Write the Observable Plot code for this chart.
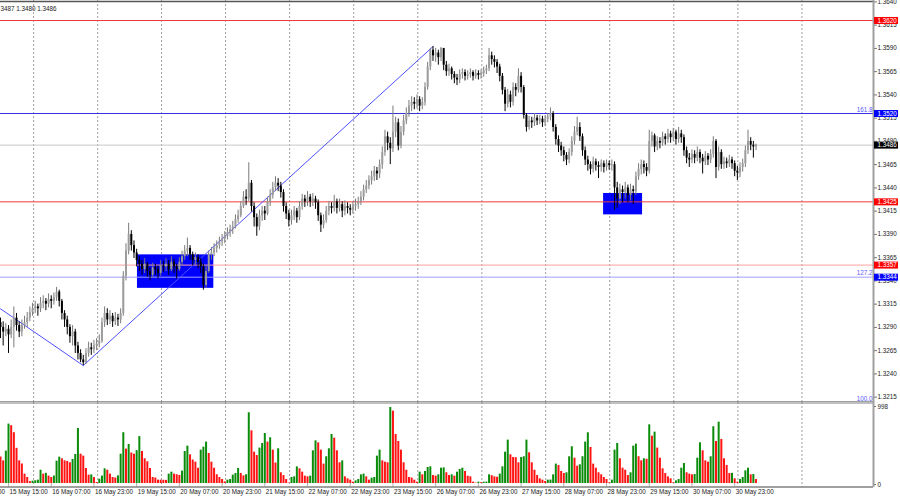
<!DOCTYPE html>
<html><head><meta charset="utf-8">
<script src="https://cdn.jsdelivr.net/npm/d3@7"></script>
<script src="https://cdn.jsdelivr.net/npm/@observablehq/plot@0.6"></script>
<style>
html,body{margin:0;padding:0;background:#fff;}
#chart{position:relative;width:900px;height:500px;overflow:hidden;background:#fff;}
#chart svg{display:block;overflow:hidden;}
</style></head><body><div id="chart"></div>
<script>
// ---- data (hourly bars, index 0 = 15 May 12:00) ----
const firstOpen = 1.3295;
const close = [
1.3290,1.3285,1.3288,1.3282,1.3290,1.3300,1.3292,1.3285,1.3292,1.3295,
1.3300,1.3306,1.3310,1.3312,1.3310,1.3316,1.3318,1.3315,1.3320,1.3318,
1.3322,1.3328,1.3318,1.3305,1.3298,1.3290,1.3280,1.3285,1.3270,1.3262,
1.3255,1.3252,1.3262,1.3268,1.3266,1.3270,1.3272,1.3275,1.3295,1.3305,
1.3298,1.3302,1.3296,1.3300,1.3298,1.3305,1.3345,1.3372,1.3390,1.3378,
1.3370,1.3362,1.3358,1.3352,1.3358,1.3350,1.3346,1.3354,1.3352,1.3348,
1.3356,1.3355,1.3358,1.3352,1.3360,1.3355,1.3352,1.3360,1.3366,1.3372,
1.3375,1.3368,1.3362,1.3365,1.3360,1.3355,1.3335,1.3350,1.3368,1.3370,
1.3375,1.3378,1.3382,1.3385,1.3388,1.3392,1.3395,1.3398,1.3406,1.3410,
1.3420,1.3430,1.3428,1.3445,1.3420,1.3408,1.3398,1.3410,1.3415,1.3412,
1.3425,1.3432,1.3440,1.3445,1.3442,1.3435,1.3420,1.3412,1.3405,1.3410,
1.3415,1.3408,1.3420,1.3428,1.3425,1.3430,1.3425,1.3428,1.3424,1.3410,
1.3400,1.3405,1.3415,1.3420,1.3418,1.3425,1.3418,1.3422,1.3415,1.3420,
1.3418,1.3416,1.3420,1.3422,1.3425,1.3430,1.3438,1.3442,1.3448,1.3452,
1.3458,1.3455,1.3465,1.3478,1.3495,1.3488,1.3482,1.3500,1.3510,1.3485,
1.3500,1.3512,1.3520,1.3528,1.3532,1.3530,1.3535,1.3528,1.3532,1.3548,
1.3570,1.3588,1.3582,1.3585,1.3580,1.3590,1.3572,1.3565,1.3568,1.3562,
1.3558,1.3556,1.3562,1.3564,1.3560,1.3562,1.3564,1.3560,1.3563,1.3561,
1.3563,1.3566,1.3568,1.3582,1.3578,1.3575,1.3570,1.3560,1.3545,1.3530,
1.3540,1.3532,1.3548,1.3545,1.3560,1.3548,1.3518,1.3505,1.3512,1.3510,
1.3515,1.3512,1.3514,1.3510,1.3514,1.3516,1.3520,1.3505,1.3492,1.3485,
1.3480,1.3475,1.3470,1.3478,1.3490,1.3500,1.3505,1.3495,1.3480,1.3470,
1.3465,1.3460,1.3468,1.3464,1.3462,1.3466,1.3462,1.3466,1.3464,1.3465,
1.3440,1.3428,1.3438,1.3435,1.3440,1.3432,1.3438,1.3436,1.3452,1.3460,
1.3465,1.3462,1.3458,1.3490,1.3496,1.3484,1.3490,1.3488,1.3495,1.3492,
1.3498,1.3494,1.3500,1.3492,1.3498,1.3494,1.3480,1.3472,1.3470,1.3476,
1.3472,1.3478,1.3472,1.3468,1.3474,1.3470,1.3476,1.3490,1.3462,1.3478,
1.3465,1.3468,1.3466,1.3470,1.3466,1.3458,1.3456,1.3462,1.3466,1.3480,
1.3490,1.3486,1.3484,1.3486];
const high = [
1.3300,1.3296,1.3294,1.3292,1.3298,1.3312,1.3305,1.3296,1.3298,1.3302,
1.3306,1.3312,1.3316,1.3318,1.3315,1.3322,1.3324,1.3321,1.3326,1.3324,
1.3327,1.3333,1.3330,1.3320,1.3308,1.3302,1.3293,1.3292,1.3288,1.3274,
1.3266,1.3260,1.3267,1.3274,1.3273,1.3276,1.3278,1.3282,1.3300,1.3312,
1.3310,1.3308,1.3305,1.3306,1.3304,1.3310,1.3350,1.3380,1.3402,1.3394,
1.3383,1.3374,1.3366,1.3362,1.3364,1.3360,1.3354,1.3359,1.3358,1.3356,
1.3362,1.3361,1.3364,1.3362,1.3366,1.3363,1.3358,1.3365,1.3372,1.3378,
1.3386,1.3378,1.3371,1.3370,1.3368,1.3364,1.3358,1.3356,1.3372,1.3376,
1.3380,1.3383,1.3387,1.3390,1.3393,1.3397,1.3400,1.3404,1.3411,1.3416,
1.3425,1.3436,1.3438,1.3467,1.3448,1.3424,1.3412,1.3416,1.3420,1.3420,
1.3430,1.3438,1.3446,1.3452,1.3450,1.3446,1.3438,1.3424,1.3416,1.3416,
1.3420,1.3418,1.3425,1.3433,1.3432,1.3436,1.3433,1.3434,1.3431,1.3427,
1.3413,1.3411,1.3420,1.3425,1.3424,1.3432,1.3428,1.3428,1.3425,1.3426,
1.3424,1.3422,1.3425,1.3428,1.3430,1.3436,1.3443,1.3448,1.3453,1.3458,
1.3463,1.3462,1.3470,1.3484,1.3502,1.3500,1.3494,1.3528,1.3516,1.3514,
1.3506,1.3518,1.3526,1.3534,1.3538,1.3537,1.3540,1.3538,1.3537,1.3553,
1.3575,1.3590,1.3592,1.3590,1.3588,1.3591,1.3588,1.3576,1.3573,1.3570,
1.3565,1.3562,1.3567,1.3568,1.3567,1.3566,1.3568,1.3566,1.3567,1.3566,
1.3567,1.3570,1.3572,1.3590,1.3586,1.3582,1.3578,1.3573,1.3563,1.3548,
1.3546,1.3544,1.3553,1.3552,1.3568,1.3564,1.3550,1.3520,1.3517,1.3516,
1.3520,1.3518,1.3518,1.3517,1.3518,1.3520,1.3526,1.3522,1.3508,1.3496,
1.3489,1.3484,1.3478,1.3482,1.3495,1.3506,1.3516,1.3510,1.3498,1.3484,
1.3474,1.3468,1.3473,1.3471,1.3468,1.3470,1.3469,1.3470,1.3469,1.3470,
1.3468,1.3446,1.3444,1.3442,1.3446,1.3443,1.3444,1.3442,1.3457,1.3466,
1.3470,1.3469,1.3466,1.3502,1.3500,1.3498,1.3495,1.3494,1.3500,1.3498,
1.3503,1.3501,1.3504,1.3502,1.3505,1.3502,1.3497,1.3484,1.3477,1.3481,
1.3480,1.3484,1.3481,1.3476,1.3479,1.3477,1.3481,1.3495,1.3492,1.3484,
1.3481,1.3473,1.3472,1.3475,1.3473,1.3469,1.3463,1.3467,1.3471,1.3485,
1.3502,1.3494,1.3490,1.3487];
const low = [
1.3278,1.3270,1.3280,1.3262,1.3278,1.3268,1.3286,1.3279,1.3280,1.3288,
1.3290,1.3296,1.3302,1.3305,1.3302,1.3306,1.3310,1.3308,1.3311,1.3310,
1.3314,1.3318,1.3312,1.3298,1.3290,1.3282,1.3273,1.3270,1.3262,1.3255,
1.3252,1.3249,1.3250,1.3258,1.3260,1.3262,1.3265,1.3268,1.3273,1.3290,
1.3292,1.3293,1.3290,1.3292,1.3291,1.3294,1.3302,1.3340,1.3368,1.3372,
1.3364,1.3355,1.3350,1.3346,1.3348,1.3344,1.3340,1.3343,1.3346,1.3342,
1.3345,1.3349,1.3350,1.3346,1.3350,1.3348,1.3342,1.3350,1.3356,1.3362,
1.3366,1.3362,1.3356,1.3357,1.3353,1.3348,1.3330,1.3332,1.3348,1.3362,
1.3366,1.3370,1.3374,1.3377,1.3380,1.3384,1.3387,1.3390,1.3396,1.3402,
1.3408,1.3418,1.3421,1.3425,1.3414,1.3398,1.3388,1.3394,1.3404,1.3405,
1.3410,1.3420,1.3428,1.3436,1.3436,1.3429,1.3414,1.3406,1.3398,1.3400,
1.3405,1.3402,1.3405,1.3416,1.3419,1.3420,1.3419,1.3420,1.3417,1.3404,
1.3392,1.3396,1.3402,1.3410,1.3412,1.3414,1.3412,1.3414,1.3408,1.3410,
1.3412,1.3410,1.3412,1.3415,1.3417,1.3421,1.3426,1.3434,1.3438,1.3443,
1.3447,1.3448,1.3450,1.3460,1.3474,1.3480,1.3465,1.3478,1.3494,1.3480,
1.3482,1.3496,1.3508,1.3516,1.3522,1.3524,1.3525,1.3522,1.3524,1.3528,
1.3545,1.3566,1.3576,1.3575,1.3572,1.3576,1.3566,1.3560,1.3560,1.3556,
1.3552,1.3550,1.3552,1.3557,1.3555,1.3556,1.3558,1.3555,1.3557,1.3556,
1.3557,1.3559,1.3562,1.3565,1.3572,1.3569,1.3563,1.3554,1.3540,1.3522,
1.3526,1.3526,1.3528,1.3538,1.3542,1.3542,1.3514,1.3500,1.3502,1.3504,
1.3506,1.3507,1.3508,1.3505,1.3506,1.3510,1.3512,1.3500,1.3486,1.3478,
1.3474,1.3468,1.3464,1.3466,1.3474,1.3486,1.3496,1.3490,1.3474,1.3464,
1.3458,1.3454,1.3456,1.3458,1.3450,1.3457,1.3456,1.3458,1.3459,1.3458,
1.3416,1.3418,1.3422,1.3424,1.3428,1.3424,1.3426,1.3422,1.3432,1.3448,
1.3454,1.3455,1.3452,1.3455,1.3484,1.3478,1.3480,1.3482,1.3485,1.3486,
1.3488,1.3488,1.3490,1.3486,1.3488,1.3488,1.3474,1.3466,1.3462,1.3466,
1.3466,1.3468,1.3466,1.3455,1.3464,1.3464,1.3466,1.3472,1.3450,1.3458,
1.3460,1.3460,1.3461,1.3462,1.3460,1.3452,1.3448,1.3451,1.3457,1.3462,
1.3476,1.3480,1.3472,1.3480];
const volume = [
340,290,414,760,740,650,450,290,250,120,
77,25,30,35,43,170,120,130,95,77,
95,286,337,316,290,282,265,307,371,704,
375,350,192,107,110,77,13,55,95,188,
170,120,77,70,98,375,650,440,500,390,
375,420,600,410,316,278,192,77,70,43,
42,41,40,120,145,120,112,103,158,410,
478,367,300,273,196,427,465,530,384,273,
196,112,77,51,21,43,51,107,128,192,
128,98,112,905,674,401,358,453,512,640,
530,585,427,262,444,137,102,51,5,77,
85,213,188,145,94,85,94,418,546,520,
427,248,342,444,627,580,418,265,290,85,
60,43,17,34,51,111,120,85,43,68,
77,350,427,290,273,265,973,926,627,538,
427,265,170,77,70,43,17,145,111,154,
205,213,102,94,111,196,200,137,102,
111,94,145,180,196,154,94,85,17,5,
17,10,17,18,111,100,85,80,120,213,
401,555,367,333,330,265,333,342,555,393,
265,170,102,60,43,26,43,44,111,248,
230,154,128,137,342,470,324,222,239,342,
530,649,461,248,196,137,111,77,51,9,
43,427,512,316,196,170,102,137,478,504,
342,290,316,310,751,606,657,453,324,188,
128,85,60,9,34,51,196,256,137,120,
111,115,324,521,418,290,273,342,726,538,
785,564,316,230,128,130,60,17,51,77,
162,196,111,115,51];

const priceTicks = [1.3215,1.3240,1.3265,1.3290,1.3315,1.3340,1.3365,1.3390,1.3415,1.3440,1.3465,1.3490,1.3515,1.3540,1.3565,1.3590,1.3615,1.3640];
const timeBars = [-13,3,19,35,51,67,83,99,115,131,147,163,179,195,211,227,243,259,275];
const timeTexts = ["14 May 23:00","15 May 15:00","16 May 07:00","16 May 23:00","19 May 15:00","20 May 07:00","20 May 23:00","21 May 15:00","22 May 07:00","22 May 23:00","23 May 15:00","26 May 07:00","26 May 23:00","27 May 15:00","28 May 07:00","28 May 23:00","29 May 15:00","30 May 07:00","30 May 23:00"];
const gridBars = [12.4,36.4,60.3,84.3,108.3,132.3,156.3,180.3,204.2,228.2,252.2,276.2,300.2];

const levelPrices = [1.3620,1.3520,1.3486,1.3425,1.3357,1.3344];
const levelLineColors = ["#f03c3c","#3434e0","#c8c8c8","#f03c3c","#ffa0a0","#a0a0ff"];
const levelBoxColors = ["#ff0000","#0000ff","#000000","#ff0000","#ff0000","#0000ff"];

const fibPrices = [1.3520,1.3344,1.3209];
const fibTexts = ["161.8","127.2","100.0"];

const trendIdx1 = [0,31], trendPrice1 = [1.3310,1.3249];
const trendIdx2 = [31,162], trendPrice2 = [1.3249,1.3592];

const zoneStart = [51.3,225.9], zoneEnd = [79.9,240.5];
const zoneLow = [1.3332,1.3411], zoneHigh = [1.3368,1.3434];

const headerText = ["3487 1.3480 1.3486"];

// ---- build tables ----
const bars = close.map((c, i) => {
  const o = i === 0 ? firstOpen : close[i - 1];
  return {i, o, c, h: high[i], l: low[i], v: volume[i], up: c >= o, vUp: i > 0 && volume[i] > volume[i - 1]};
});
const levels = levelPrices.map((p, k) => ({p, line: levelLineColors[k], box: levelBoxColors[k]}));
const fibs = fibPrices.map((p, k) => ({p, t: fibTexts[k]}));
const trend1 = trendIdx1.map((i, k) => ({i, p: trendPrice1[k]}));
const trend2 = trendIdx2.map((i, k) => ({i, p: trendPrice2[k]}));
const zones = zoneStart.map((s, k) => ({x1: s, x2: zoneEnd[k], y1: zoneLow[k], y2: zoneHigh[k]}));
const timeLabels = timeBars.map((i, k) => ({i, t: timeTexts[k]}));

const X_DOMAIN = [0, 327];
const X_AXIS_END = 327, X_BOX_END = 336;
const Y_DOMAIN = [1.320925, 1.364151];
const font = "'Liberation Sans', Arial, sans-serif";
const hasAxis = typeof Plot.axisY === "function";

const mainMarks = [
  Plot.ruleX(gridBars, {x: d => d, stroke: "#a0a0a0", strokeDasharray: "2,2"}),
  Plot.rect(zones, {x1: "x1", x2: "x2", y1: "y1", y2: "y2", fill: "#0000ff"}),
  Plot.ruleY(levels, {y: "p", stroke: "line", strokeWidth: 1}),
  Plot.line(trend1, {x: "i", y: "p", stroke: "#5050ff", strokeWidth: 1}),
  Plot.line(trend2, {x: "i", y: "p", stroke: "#5050ff", strokeWidth: 1}),
  Plot.ruleX(bars, {x: "i", y1: "l", y2: "h", stroke: d => d.up ? "#7a7a7a" : "#000000", strokeWidth: 1}),
  Plot.ruleX(bars, {x: "i", y1: "o", y2: "c", stroke: d => d.up ? "#9c9c9c" : "#000000", strokeWidth: 2}),
  Plot.ruleY([Y_DOMAIN[1]], {stroke: "#555", strokeWidth: 1.5, dy: 1}),
  Plot.ruleY([Y_DOMAIN[0]], {stroke: "#808080", strokeWidth: 1.5, dy: -0.5}),
  Plot.ruleX([X_AXIS_END], {stroke: "#a0a0a0", strokeWidth: 2})
];
if (hasAxis) mainMarks.push(Plot.axisY({anchor: "right", ticks: priceTicks, tickFormat: d => d.toFixed(4), tickSize: 3, tickPadding: 1, label: null, fill: "#222", stroke: "#777"}));
mainMarks.push(
  Plot.ruleY(levels, {y: "p", x1: X_AXIS_END, x2: X_BOX_END, stroke: "box", strokeWidth: 7, dx: 1}),
  Plot.text(levels, {x: X_AXIS_END, y: "p", text: d => d.p.toFixed(4), fill: "#ffffff", textAnchor: "start", dx: 4}),
  Plot.text(fibs, {x: X_AXIS_END, y: "p", text: "t", fill: "#5a5aff", textAnchor: "end", dx: -1, dy: -4}),
  Plot.text(headerText, {frameAnchor: "top-left", text: d => d, textAnchor: "start", dy: 6, fill: "#222"})
);

const main = Plot.plot({
  width: 900, height: 402, marginLeft: 0, marginRight: 27, marginTop: 0, marginBottom: 0,
  x: {domain: X_DOMAIN, axis: null},
  y: hasAxis ? {domain: Y_DOMAIN, axis: null} : {domain: Y_DOMAIN, axis: "right", ticks: priceTicks, tickFormat: d => d.toFixed(4), tickSize: 3, tickPadding: 1, label: null},
  color: {type: "identity"},
  style: {fontFamily: font, fontSize: "6.3px", color: "#222", background: "white", overflow: "hidden"},
  marks: mainMarks
});

const volMarks = [
  Plot.ruleX(gridBars, {x: d => d, stroke: "#a0a0a0", strokeDasharray: "2,2", insetTop: -3, insetBottom: -4}),
  Plot.ruleX(bars, {x: "i", y1: 0, y2: "v", stroke: d => d.vUp ? "#0a8c0a" : "#ff1414", strokeWidth: 2}),
  Plot.ruleX(timeLabels, {x: "i", y1: 0, y2: 45, dy: 3.5, stroke: "#b0b0b0"}),
  Plot.ruleY([998], {stroke: "#808080", strokeWidth: 1, dy: -2.5}),
  Plot.ruleY([0], {stroke: "#808080", strokeWidth: 1.5, dy: 3.5}),
  Plot.ruleX([X_AXIS_END], {stroke: "#a0a0a0", strokeWidth: 2, insetTop: -3, insetBottom: -4}),
  Plot.text(timeLabels, {x: "i", text: "t", frameAnchor: "bottom", textAnchor: "start", dx: 1, dy: 10, fill: "#222"})
];
if (hasAxis) volMarks.push(Plot.axisY({anchor: "right", ticks: [0, 998], tickSize: 2, tickPadding: 2, label: null, fill: "#222", stroke: "#777", dy: 1}));

const vol = Plot.plot({
  width: 900, height: 98, marginLeft: 0, marginRight: 27, marginTop: 3, marginBottom: 17,
  x: {domain: X_DOMAIN, axis: null},
  y: hasAxis ? {domain: [0, 998], axis: null} : {domain: [0, 998], axis: "right", ticks: [0, 998], tickSize: 2, label: null},
  color: {type: "identity"},
  style: {fontFamily: font, fontSize: "6.3px", color: "#222", background: "white", overflow: "hidden"},
  marks: volMarks
});

const chart = document.getElementById("chart");
chart.appendChild(main);
chart.appendChild(vol);
</script></body></html>
